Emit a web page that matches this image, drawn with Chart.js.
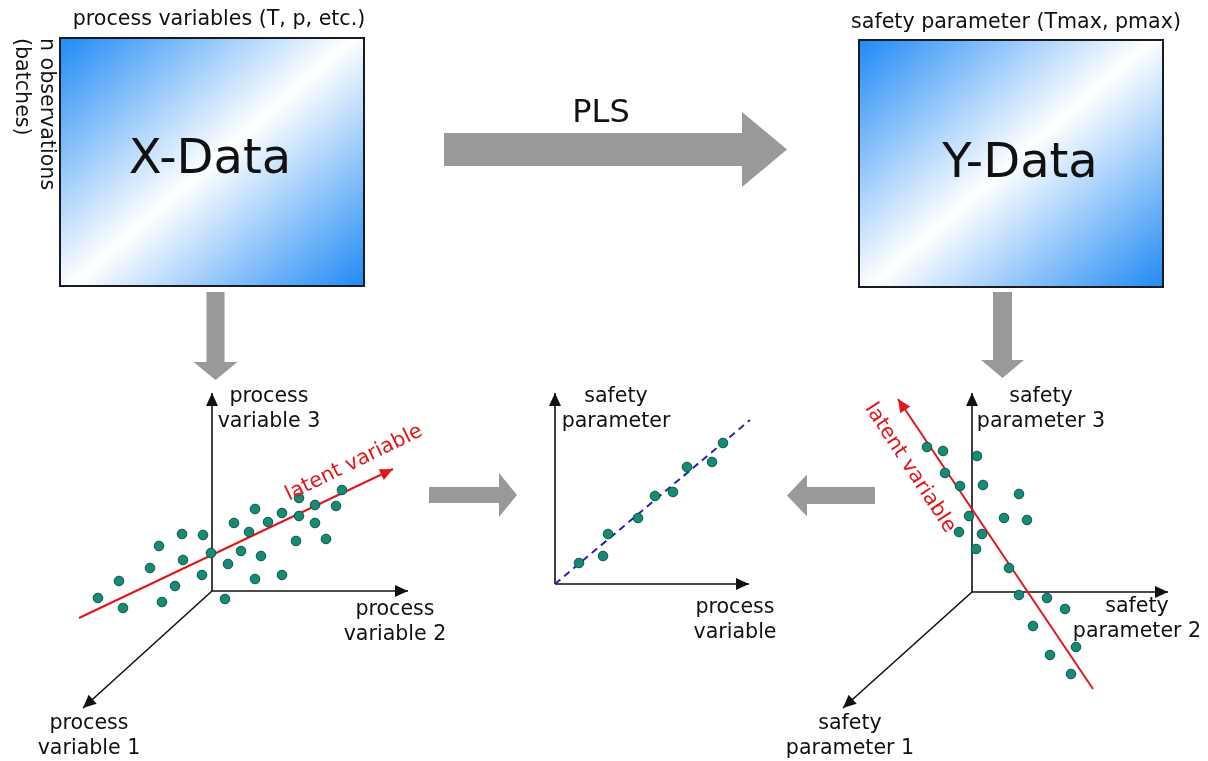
<!DOCTYPE html>
<html>
<head>
<meta charset="utf-8">
<script src="https://cdn.jsdelivr.net/npm/chart.js@4.4.1/dist/chart.umd.min.js"></script>
<style>
  body { margin: 0; background: #fff; }
  #wrap { width: 1208px; height: 761px; }
</style>
</head>
<body>
<div id="wrap"><canvas id="pls" width="1208" height="761"></canvas></div>
<script>
// point clouds (page units, y grows downwards)
const xCloudX = [98, 119, 123, 159, 150, 162, 175, 182, 183, 203, 202, 211, 225, 228, 234, 249,
                 241, 255, 261, 255, 268, 282, 282, 299, 299, 296, 315, 315, 326, 336, 342];
const xCloudY = [598, 581, 608, 546, 568, 602, 586, 534, 560, 535, 575, 553, 599, 564, 523, 532,
                 551, 509, 556, 579, 522, 513, 575, 498, 516, 541, 505, 523, 539, 506, 490];

const fitX = [579, 603, 608, 638, 655, 673, 687, 712, 723];
const fitY = [563, 556, 534, 518, 496, 492, 467, 462, 443];

const yCloudX = [927, 943, 977, 945, 960, 983, 1019, 969, 1004, 1027, 959, 982, 976, 1009, 1019,
                 1047, 1065, 1033, 1076, 1050, 1071];
const yCloudY = [447, 451, 456, 473, 486, 485, 494, 516, 518, 520, 532, 534, 549, 568, 595,
                 598, 609, 626, 647, 655, 674];

// lines: start / end
const latentX = [[79, 618], [393, 469]];
const latentY = [[1093, 689], [898, 399]];
const fitLine = [[555, 584], [750, 420]];

// axis origins and the axis tips per panel
const leftAxes = { origin: [212, 591], tips: [[212, 393], [408, 591], [83, 708]] };
const midAxes = { origin: [555, 584], tips: [[555, 393], [749, 584]] };
const rightAxes = { origin: [972, 592], tips: [[972, 393], [1168, 592], [843, 708]] };

const FONT = '"DejaVu Sans", Verdana, sans-serif';
const RED = '#e0161b';

const toPts = (xs, ys) => xs.map((v, i) => ({ x: v, y: ys[i] }));
const seg = s => s.map(p => ({ x: p[0], y: p[1] }));

const datasets = [];
// dots on top
[[xCloudX, xCloudY], [fitX, fitY], [yCloudX, yCloudY]].forEach(c => {
    datasets.push({
        data: toPts(c[0], c[1]),
        pointRadius: 4.8,
        pointBackgroundColor: '#158a74',
        pointBorderColor: '#0c5245',
        pointBorderWidth: 1,
        order: 0
    });
});
datasets.push({ data: seg(latentX), showLine: true, borderColor: RED, borderWidth: 2, pointRadius: 0, arrowHead: RED, order: 1 });
datasets.push({ data: seg(latentY), showLine: true, borderColor: RED, borderWidth: 2, pointRadius: 0, arrowHead: RED, order: 1 });
datasets.push({ data: seg(fitLine), showLine: true, borderColor: '#2424b0', borderWidth: 2, borderDash: [7, 5], pointRadius: 0, order: 1 });
[leftAxes, midAxes, rightAxes].forEach(a => {
    a.tips.forEach(t => {
        datasets.push({ data: seg([a.origin, t]), showLine: true, borderColor: '#111', borderWidth: 1.6, pointRadius: 0, arrowHead: '#111', order: 2 });
    });
});

// boxes, block arrows and texts
const boxes = [
    { x0: 60, y0: 38, x1: 364, y1: 286 },
    { x0: 859, y0: 40, x1: 1163, y1: 287 }
];
const blockArrows = [
    { from: [444, 149.5], to: [787, 149.5], shaft: 16.5, head: 37.5, len: 45 },
    { from: [215.5, 292], to: [215.5, 380], shaft: 9, head: 22, len: 18 },
    { from: [1002.5, 292], to: [1002.5, 378], shaft: 9.5, head: 21.5, len: 18 },
    { from: [429, 495], to: [517, 495], shaft: 8, head: 22, len: 18 },
    { from: [875, 495.5], to: [787, 495.5], shaft: 8.5, head: 21, len: 20 }
];
const labels = [
    { lines: ['process variables (T, p, etc.)'], x: 219, y: 25, size: 20.6 },
    { lines: ['safety parameter (Tmax, pmax)'], x: 1016, y: 28, size: 20.6 },
    { lines: ['X-Data'], x: 210, y: 173, size: 48 },
    { lines: ['Y-Data'], x: 1020, y: 177, size: 48 },
    { lines: ['PLS'], x: 601, y: 122, size: 32 },
    { lines: ['process', 'variable 3'], x: 269, y: 402, size: 20.6 },
    { lines: ['process', 'variable 2'], x: 395, y: 615, size: 20.6 },
    { lines: ['process', 'variable 1'], x: 89, y: 729, size: 20.6 },
    { lines: ['safety', 'parameter'], x: 616, y: 402, size: 20.6 },
    { lines: ['process', 'variable'], x: 735, y: 613, size: 20.6 },
    { lines: ['safety', 'parameter 3'], x: 1041, y: 402, size: 20.6 },
    { lines: ['safety', 'parameter 2'], x: 1137, y: 612, size: 20.6 },
    { lines: ['safety', 'parameter 1'], x: 850, y: 729, size: 20.6 }
];
const rotLabels = [
    { lines: ['n observations', '(batches)'], x: 46, y: 38, angle: 90, align: 'left', color: '#111', step: -25 },
    { lines: ['latent variable'], x: 354, y: 463, angle: -26, align: 'center', color: RED, step: 0 },
    { lines: ['latent variable'], x: 910, y: 468, angle: 57, align: 'center', color: RED, step: 0 }
];

const diagram = {
    id: 'diagram',
    beforeDatasetsDraw(chart) {
        const { ctx, scales: { x, y } } = chart;
        const px = v => x.getPixelForValue(v), py = v => y.getPixelForValue(v);
        ctx.save();
        boxes.forEach(b => {
            const X0 = px(b.x0), Y0 = py(b.y0), X1 = px(b.x1), Y1 = py(b.y1);
            const cx = (X0 + X1) / 2, cy = (Y0 + Y1) / 2;
            const ux = 0.659, uy = 0.752;
            const d = Math.abs((X1 - X0) / 2 * ux) + Math.abs((Y1 - Y0) / 2 * uy);
            const g = ctx.createLinearGradient(cx - d * ux, cy - d * uy, cx + d * ux, cy + d * uy);
            g.addColorStop(0, '#1f8af5');
            g.addColorStop(0.5, '#ffffff');
            g.addColorStop(1, '#1f8af5');
            ctx.fillStyle = g;
            ctx.fillRect(X0, Y0, X1 - X0, Y1 - Y0);
            ctx.lineWidth = 2;
            ctx.strokeStyle = '#1a1a22';
            ctx.strokeRect(X0, Y0, X1 - X0, Y1 - Y0);
        });
        ctx.fillStyle = '#999999';
        blockArrows.forEach(a => {
            const x0 = px(a.from[0]), y0 = py(a.from[1]), x1 = px(a.to[0]), y1 = py(a.to[1]);
            const L = Math.hypot(x1 - x0, y1 - y0);
            const ux = (x1 - x0) / L, uy = (y1 - y0) / L, nx = -uy, ny = ux;
            const bx = x1 - ux * a.len, by = y1 - uy * a.len;
            ctx.beginPath();
            ctx.moveTo(x0 + nx * a.shaft, y0 + ny * a.shaft);
            ctx.lineTo(bx + nx * a.shaft, by + ny * a.shaft);
            ctx.lineTo(bx + nx * a.head, by + ny * a.head);
            ctx.lineTo(x1, y1);
            ctx.lineTo(bx - nx * a.head, by - ny * a.head);
            ctx.lineTo(bx - nx * a.shaft, by - ny * a.shaft);
            ctx.lineTo(x0 - nx * a.shaft, y0 - ny * a.shaft);
            ctx.closePath();
            ctx.fill();
        });
        ctx.restore();
    },
    afterDatasetsDraw(chart) {
        const { ctx, scales: { x, y } } = chart;
        const px = v => x.getPixelForValue(v), py = v => y.getPixelForValue(v);
        ctx.save();
        // arrow heads on axes and latent variable lines
        chart.data.datasets.forEach((ds, i) => {
            if (!ds.arrowHead) return;
            const pts = chart.getDatasetMeta(i).data;
            const a = pts[pts.length - 2], b = pts[pts.length - 1];
            const ang = Math.atan2(b.y - a.y, b.x - a.x);
            ctx.save();
            ctx.translate(b.x, b.y);
            ctx.rotate(ang);
            ctx.fillStyle = ds.arrowHead;
            ctx.beginPath();
            ctx.moveTo(0, 0);
            ctx.lineTo(-13, -6);
            ctx.lineTo(-13, 6);
            ctx.closePath();
            ctx.fill();
            ctx.restore();
        });
        // texts
        ctx.fillStyle = '#111';
        ctx.textAlign = 'center';
        ctx.textBaseline = 'alphabetic';
        labels.forEach(l => {
            ctx.font = l.size + 'px ' + FONT;
            l.lines.forEach((t, k) => ctx.fillText(t, px(l.x), py(l.y) + k * 25));
        });
        rotLabels.forEach(l => {
            ctx.save();
            ctx.translate(px(l.x), py(l.y));
            ctx.rotate(l.angle * Math.PI / 180);
            ctx.font = '20.6px ' + FONT;
            ctx.fillStyle = l.color;
            ctx.textAlign = l.align;
            ctx.textBaseline = 'middle';
            l.lines.forEach((t, k) => ctx.fillText(t, 0, -k * l.step));
            ctx.restore();
        });
        ctx.restore();
    }
};

new Chart(document.getElementById('pls'), {
    type: 'scatter',
    data: { datasets: datasets },
    options: {
        responsive: false,
        animation: false,
        layout: { padding: 0, autoPadding: false },
        plugins: { legend: { display: false }, tooltip: { enabled: false } },
        scales: {
            x: { type: 'linear', min: 0, max: 1208, display: false },
            y: { type: 'linear', min: 0, max: 761, reverse: true, display: false }
        }
    },
    plugins: [diagram]
});
</script>
</body>
</html>
